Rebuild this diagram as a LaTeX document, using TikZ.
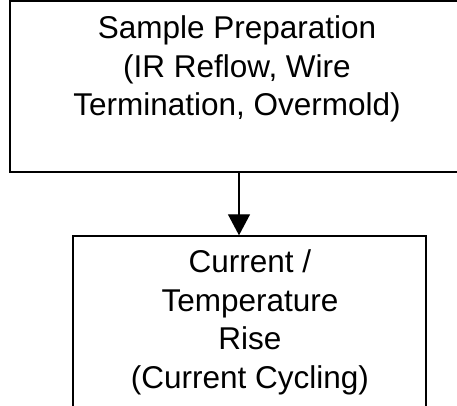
\documentclass[tikz,border=0pt]{standalone}
\usepackage{fontspec}
\setmainfont{Liberation Sans}
\usetikzlibrary{arrows.meta}
\tikzset{
  stepbox/.style={draw=black, line width=2pt, rectangle, inner sep=0pt},
  steptext/.style={align=center, inner sep=0pt,
    font=\fontsize{31.5}{38.5}\selectfont},
  flow/.style={draw=black, line width=1.3pt,
    -{Triangle[width=22pt,length=21pt]}}
}
\begin{document}
\begin{tikzpicture}[x=1pt, y=-1pt]
  \useasboundingbox (0,0) rectangle (457,406);
  \clip (0,0) rectangle (457,406);
  % upper step (runs past the right edge)
  \node[stepbox, minimum width=458pt, minimum height=170.7pt]
    (prep) at (239,86.35) {};
  \node[steptext] (preptext) at (237,69.3)
    {Sample Preparation\\(IR Reflow, Wire\\Termination, Overmold)};
  % lower step (runs past the bottom edge)
  \node[stepbox, minimum width=352.4pt, minimum height=190pt]
    (rise) at (249.5,331.3) {};
  \node[steptext] (risetext) at (250,322.3)
    {Current /\\Temperature\\Rise\\(Current Cycling)};
  % flow between the steps
  \draw[flow] (prep.south) -- (prep.south |- rise.north);
\end{tikzpicture}
\end{document}
